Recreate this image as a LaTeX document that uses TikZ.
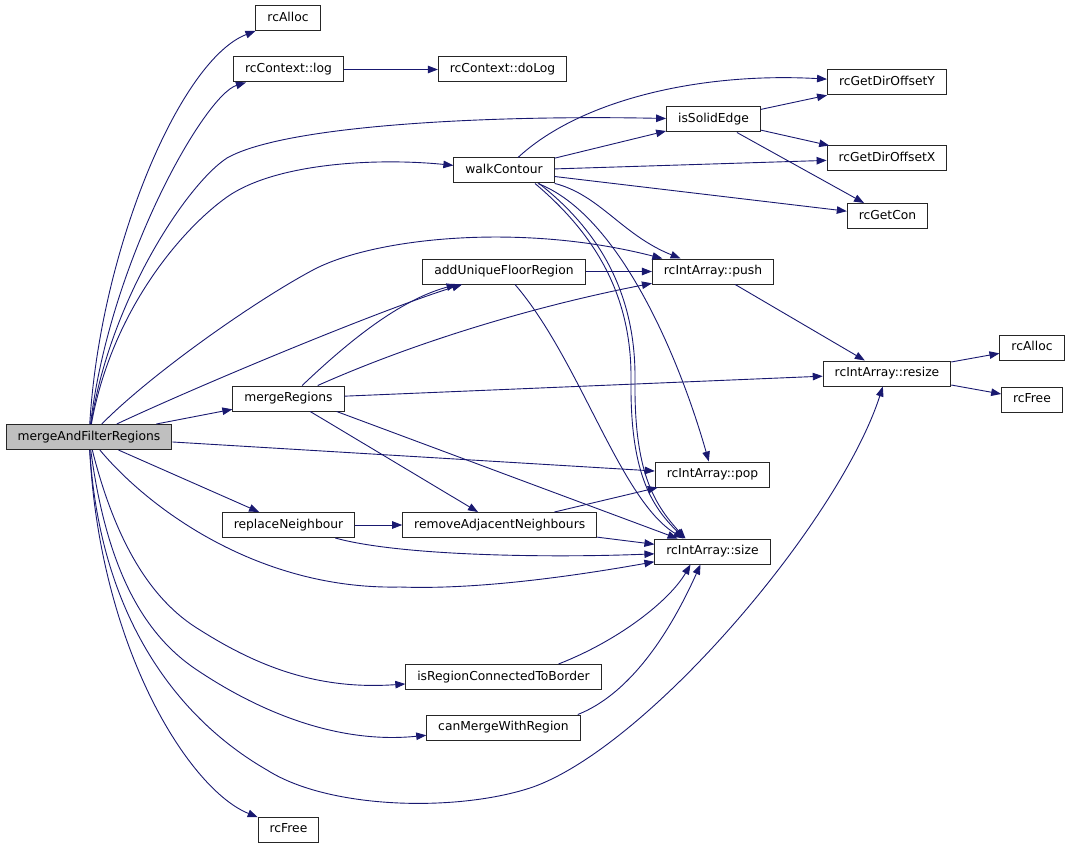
\documentclass[tikz,border=0pt]{standalone}
\usepackage{fontspec}
\setmainfont{DejaVu Sans}
\usetikzlibrary{positioning,arrows.meta}
\definecolor{callblue}{RGB}{25,25,112}
\definecolor{rootgray}{RGB}{191,191,191}

\begin{document}
\begin{tikzpicture}
  [x=1pt,y=-1pt,
   funcN/.style={rectangle,draw=black!85,line width=1pt,minimum height=25pt,
     inner xsep=11.5pt,inner ysep=0pt,text height=9pt,text depth=2.6pt,
     font=\fontsize{12.3}{14}\selectfont},
   rootN/.style={funcN,fill=rootgray},
   callE/.style={draw=callblue,line width=0.9pt,-{Triangle[length=10pt,width=7.5pt]}},
   node distance=47pt]

  \useasboundingbox (0,0) rectangle (1069,848);

  \node[rootN] (mafr) at (89,437) {mergeAndFilterRegions};
  \node[funcN] (alloc1) at (288,18.5) {rcAlloc};
  \node[funcN] (log) at (288.5,69.5) {rcContext::log};
  \node[funcN] (dolog) [right=94pt of log] {rcContext::doLog};
  \node[funcN] (offy) at (887,82.5) {rcGetDirOffsetY};
  \node[funcN] (solid) at (713.5,119.5) {isSolidEdge};
  \node[funcN] (walk) at (504,170.5) {walkContour};
  \node[funcN] (offx) at (887,158.5) {rcGetDirOffsetX};
  \node[funcN] (con) at (887.5,216) {rcGetCon};
  \node[funcN] (addufr) at (504,271.5) {addUniqueFloorRegion};
  \node[funcN] (push) at (713,271.5) {rcIntArray::push};
  \node[funcN] (alloc2) at (1032,347.5) {rcAlloc};
  \node[funcN] (resize) at (887,373.5) {rcIntArray::resize};
  \node[funcN] (free2) [below=26pt of alloc2] {rcFree};
  \node[funcN] (merge) at (288.5,398.5) {mergeRegions};
  \node[funcN] (pop) at (712.5,474.5) {rcIntArray::pop};
  \node[funcN] (replace) at (288.5,525) {replaceNeighbour};
  \node[funcN] (remadj) [right=of replace] {removeAdjacentNeighbours};
  \node[funcN] (size) [below=51pt of pop] {rcIntArray::size};
  \node[funcN] (border) at (503.5,677) {isRegionConnectedToBorder};
  \node[funcN] (canmerge) at (503.5,727.5) {canMergeWithRegion};
  \node[funcN] (free1) at (288.5,829.5) {rcFree};

  % calls of mergeAndFilterRegions
  \draw[callE] (mafr) .. controls (100,250) and (180,60) .. (alloc1);
  \draw[callE] (mafr) .. controls (110,260) and (205,95) .. (log);
  \draw[callE] (mafr) .. controls (110,300) and (187,184) .. (227,158)
    .. controls (287,124) and (500,115) .. (solid);
  \draw[callE] (mafr) .. controls (112,310) and (182,229) .. (227,197)
    .. controls (277,162) and (380,158) .. (walk);
  \draw[callE] (mafr) .. controls (150,375) and (253,302) .. (313,270)
    .. controls (373,238) and (520,222) .. (push);
  \draw[callE] (mafr) .. controls (200,385) and (380,310) .. (addufr);
  \draw[callE] (mafr) -- (merge);
  \draw[callE] (mafr) -- (pop);
  \draw[callE] (mafr) -- (replace);
  \draw[callE] (mafr) .. controls (150,510) and (260,590) .. (400,587)
    .. controls (480,590) and (580,575) .. (size);
  \draw[callE] (mafr) .. controls (115,540) and (150,600) .. (200,630)
    .. controls (260,668) and (320,690) .. (border);
  \draw[callE] (mafr) .. controls (108,580) and (150,640) .. (200,672)
    .. controls (250,705) and (330,745) .. (canmerge);
  \draw[callE] (mafr) .. controls (100,620) and (180,720) .. (267,770)
    .. controls (330,810) and (460,812) .. (533,787)
    .. controls (650,745) and (840,520) .. (resize);
  \draw[callE] (mafr) .. controls (100,650) and (190,790) .. (free1);

  \draw[callE] (log) -- (dolog);

  % walkContour
  \draw[callE] (walk) .. controls (580,100) and (700,72) .. (offy);
  \draw[callE] (walk) -- (solid);
  \draw[callE] (walk) -- (offx);
  \draw[callE] (walk) -- (con);
  \draw[callE] (walk) .. controls (600,195) and (622,235) .. (push);
  \draw[callE] (walk) .. controls (620,215) and (680,360) .. (pop);
  \draw[callE] ([xshift=31pt]walk.south) .. controls (590,230) and (632,290) .. (631,380)
    .. controls (630,470) and (650,505) .. ([xshift=-28pt]size.north);
  \draw[callE] ([xshift=35pt]walk.south) .. controls (596,228) and (636,290) .. (635,380)
    .. controls (634,470) and (653,503) .. ([xshift=-27pt]size.north);

  \draw[callE] (solid) -- (offy);
  \draw[callE] (solid) -- (offx);
  \draw[callE] (solid) -- (con);

  \draw[callE] (addufr) -- (push);
  \draw[callE] ([xshift=11pt]addufr.south) .. controls (580,360) and (620,500) .. ([xshift=-29pt]size.north);

  \draw[callE] (push) -- (resize);
  \draw[callE] (resize) -- (alloc2);
  \draw[callE] (resize) -- (free2);

  % mergeRegions
  \draw[callE] (merge) .. controls (350,340) and (400,300) .. (addufr);
  \draw[callE] (merge) .. controls (420,340) and (540,305) .. (push);
  \draw[callE] (merge) -- (resize);
  \draw[callE] (merge) -- (remadj);
  \draw[callE] ([xshift=-8pt]merge.south east) -- (size);

  \draw[callE] (replace) -- (remadj);
  \draw[callE] ([xshift=-20pt]replace.south east) .. controls (400,556) and (550,558) .. (size);

  \draw[callE] (remadj) -- (pop);
  \draw[callE] (remadj) -- (size);

  \draw[callE] ([xshift=55pt]border.north) .. controls (620,640) and (670,600) .. ([xshift=-22pt]size.south);
  \draw[callE] ([xshift=-3pt]canmerge.north east) .. controls (640,690) and (680,610) .. ([xshift=-12pt]size.south);
\end{tikzpicture}
\end{document}
